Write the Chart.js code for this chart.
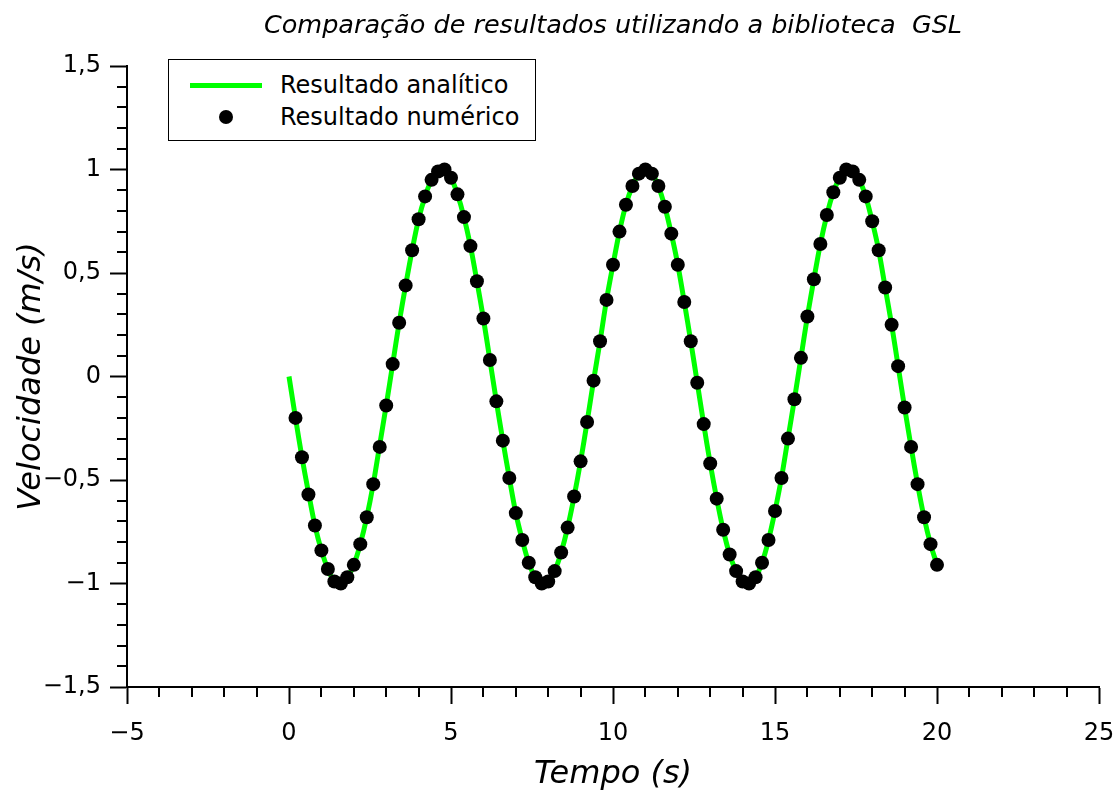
<!DOCTYPE html>
<html lang="pt">
<head>
<meta charset="utf-8">
<title>Comparação de resultados - GSL</title>
<script src="https://cdn.jsdelivr.net/npm/chart.js@4.4.1/dist/chart.umd.min.js"></script>
<style>
  html, body { margin: 0; padding: 0; background: #fff; }
  #wrap { position: relative; width: 1114px; height: 794px; }
  #grafico { position: absolute; left: 0; top: 0; }
  #legenda {
    position: absolute; left: 168px; top: 59px; width: 366px; height: 80px;
    border: 1.5px solid #000; background: #fff;
    font-family: "DejaVu Sans", Verdana, sans-serif; font-size: 24px; color: #000;
  }
  #legenda .item { position: absolute; left: 0; height: 30px; width: 100%; }
  #legenda .amostra { position: absolute; left: 21px; width: 72px; top: 0; height: 30px; }
  #legenda .texto { position: absolute; left: 111px; top: 0; line-height: 30px; white-space: nowrap; }
</style>
</head>
<body>
<div id="wrap">
  <canvas id="grafico" width="1114" height="794"></canvas>
  <div id="legenda"></div>
</div>
<script>
// ---------- dados ----------
// tempo (s) da solução analítica, passo de 0,2 s
const tempo = [
  0, 0.2, 0.4, 0.6, 0.8, 1, 1.2, 1.4, 1.6, 1.8, 2, 2.2, 2.4, 2.6, 2.8, 3, 3.2, 3.4, 3.6, 3.8,
  4, 4.2, 4.4, 4.6, 4.8, 5, 5.2, 5.4, 5.6, 5.8, 6, 6.2, 6.4, 6.6, 6.8, 7, 7.2, 7.4, 7.6, 7.8,
  8, 8.2, 8.4, 8.6, 8.8, 9, 9.2, 9.4, 9.6, 9.8, 10, 10.2, 10.4, 10.6, 10.8, 11, 11.2, 11.4, 11.6, 11.8,
  12, 12.2, 12.4, 12.6, 12.8, 13, 13.2, 13.4, 13.6, 13.8, 14, 14.2, 14.4, 14.6, 14.8, 15, 15.2, 15.4, 15.6, 15.8,
  16, 16.2, 16.4, 16.6, 16.8, 17, 17.2, 17.4, 17.6, 17.8, 18, 18.2, 18.4, 18.6, 18.8, 19, 19.2, 19.4, 19.6, 19.8, 20
];
// velocidade (m/s) da curva analítica
const velAnalitica = [
  0, -0.20, -0.39, -0.56, -0.72, -0.84, -0.93, -0.99, -1.00, -0.97, -0.91, -0.81, -0.68, -0.52, -0.33, -0.14, 0.06, 0.26, 0.44, 0.61,
  0.76, 0.87, 0.95, 0.99, 1.00, 0.96, 0.88, 0.77, 0.63, 0.46, 0.28, 0.08, -0.12, -0.31, -0.49, -0.66, -0.79, -0.90, -0.97, -1.00,
  -0.99, -0.94, -0.85, -0.73, -0.58, -0.41, -0.22, -0.02, 0.17, 0.37, 0.54, 0.70, 0.83, 0.92, 0.98, 1.00, 0.98, 0.92, 0.82, 0.69,
  0.54, 0.36, 0.17, -0.03, -0.23, -0.42, -0.59, -0.74, -0.86, -0.94, -0.99, -1.00, -0.97, -0.90, -0.79, -0.65, -0.49, -0.30, -0.11, 0.09,
  0.29, 0.47, 0.64, 0.78, 0.89, 0.96, 1.00, 0.99, 0.95, 0.87, 0.75, 0.61, 0.43, 0.25, 0.05, -0.15, -0.34, -0.52, -0.68, -0.81, -0.91
];
// pontos do integrador numérico (GSL), de 0,2 s a 20 s
const tempoNumerico = tempo.slice(1);
const velNumerica = [
  -0.20, -0.39, -0.57, -0.72, -0.84, -0.93, -0.99, -1.00, -0.97, -0.91, -0.81, -0.68, -0.52, -0.34, -0.14, 0.06, 0.26, 0.44, 0.61,
  0.76, 0.87, 0.95, 0.99, 1.00, 0.96, 0.88, 0.77, 0.63, 0.46, 0.28, 0.08, -0.12, -0.31, -0.49, -0.66, -0.79, -0.90, -0.97, -1.00,
  -0.99, -0.94, -0.85, -0.73, -0.58, -0.41, -0.22, -0.02, 0.17, 0.37, 0.54, 0.70, 0.83, 0.92, 0.98, 1.00, 0.98, 0.92, 0.82, 0.69,
  0.54, 0.36, 0.17, -0.03, -0.23, -0.42, -0.59, -0.74, -0.86, -0.94, -0.99, -1.00, -0.97, -0.90, -0.79, -0.65, -0.49, -0.30, -0.11, 0.09,
  0.29, 0.47, 0.64, 0.78, 0.89, 0.96, 1.00, 0.99, 0.95, 0.87, 0.75, 0.61, 0.43, 0.25, 0.05, -0.15, -0.34, -0.52, -0.68, -0.81, -0.91
];

const titulo = "Comparação de resultados utilizando a biblioteca  GSL";
const rotulos = ["Resultado analítico", "Resultado numérico"];

// ---------- helpers ----------
function ehMultiplo(v, passo) {
  const q = v / passo;
  return Math.abs(q - Math.round(q)) < 1e-6;
}
function formatar(v) {
  const s = String(Math.round(v * 10) / 10).replace(".", ",");
  return s.replace("-", "\u2212");
}

// titulo centralizado sobre a area do grafico
const tituloPlugin = {
  id: "tituloPlugin",
  afterDraw(chart) {
    const { ctx, chartArea } = chart;
    ctx.save();
    ctx.font = "italic 25.5px 'DejaVu Sans'";
    ctx.fillStyle = "#000";
    ctx.textAlign = "center";
    ctx.textBaseline = "alphabetic";
    ctx.fillText(titulo, (chartArea.left + chartArea.right) / 2, 33);
    ctx.restore();
  }
};

// marcas menores dos eixos (mais curtas que as principais)
const marcasMenores = {
  id: "marcasMenores",
  afterDraw(chart) {
    const ctx = chart.ctx;
    const sx = chart.scales.x, sy = chart.scales.y;
    ctx.save();
    ctx.strokeStyle = "#000";
    ctx.lineWidth = 2;
    ctx.beginPath();
    sx.ticks.forEach(t => {
      if (ehMultiplo(t.value, 5)) return;
      const px = Math.round(sx.getPixelForValue(t.value));
      ctx.moveTo(px, sx.top);
      ctx.lineTo(px, sx.top + 10);
    });
    sy.ticks.forEach(t => {
      if (ehMultiplo(t.value, 0.5)) return;
      const py = Math.round(sy.getPixelForValue(t.value));
      ctx.moveTo(sy.right, py);
      ctx.lineTo(sy.right - 10, py);
    });
    ctx.stroke();
    ctx.restore();
  }
};

// legenda em HTML, montada a partir dos datasets
const legendaHtml = {
  id: "legendaHtml",
  afterUpdate(chart) {
    const box = document.getElementById("legenda");
    box.innerHTML = "";
    const ordem = [1, 0];
    ordem.forEach((i, linha) => {
      const ds = chart.data.datasets[i];
      const item = document.createElement("div");
      item.className = "item";
      item.style.top = (linha === 0 ? 10 : 42) + "px";
      const amostra = document.createElement("div");
      amostra.className = "amostra";
      if (ds.showLine === false) {
        const r = ds.pointRadius;
        amostra.innerHTML = '<div style="position:absolute;left:' + (36 - r) + 'px;top:' + (15 - r) +
          'px;width:' + (2 * r) + 'px;height:' + (2 * r) + 'px;border-radius:50%;background:' + ds.pointBackgroundColor + '"></div>';
      } else {
        amostra.innerHTML = '<div style="position:absolute;left:0;width:72px;top:' + (15 - ds.borderWidth / 2) +
          'px;height:' + ds.borderWidth + 'px;background:' + ds.borderColor + '"></div>';
      }
      const texto = document.createElement("div");
      texto.className = "texto";
      texto.textContent = ds.label;
      item.appendChild(amostra);
      item.appendChild(texto);
      box.appendChild(item);
    });
  }
};

// ---------- grafico ----------
const ctx = document.getElementById("grafico");
const fonteTicks = { family: "'DejaVu Sans', Verdana, sans-serif", size: 24 };
const fonteEixo = { family: "'DejaVu Sans', Verdana, sans-serif", size: 32, style: "italic", lineHeight: 1.2 };

new Chart(ctx, {
  type: "scatter",
  data: {
    datasets: [
      {
        label: rotulos[1],
        data: tempoNumerico.map((t, i) => ({ x: t, y: velNumerica[i] })),
        showLine: false,
        pointRadius: 7,
        pointBackgroundColor: "#000",
        pointBorderWidth: 0,
        order: 1
      },
      {
        label: rotulos[0],
        data: tempo.map((t, i) => ({ x: t, y: velAnalitica[i] })),
        showLine: true,
        borderColor: "#00ff00",
        borderWidth: 5,
        pointRadius: 0,
        tension: 0.3,
        order: 2
      }
    ]
  },
  options: {
    responsive: false,
    animation: false,
    devicePixelRatio: 1,
    layout: { padding: { top: 66, right: 0, bottom: 0, left: 0 } },
    plugins: {
      legend: { display: false },
      title: { display: false },
      tooltip: { enabled: false }
    },
    scales: {
      x: {
        type: "linear",
        min: -5,
        max: 25,
        afterFit: s => { s.height = 107; s.paddingLeft = 0; s.paddingRight = 15; },
        border: { display: true, color: "#000", width: 2 },
        grid: {
          display: true,
          drawOnChartArea: false,
          drawTicks: true,
          tickLength: 17,
          tickWidth: 2,
          tickColor: c => (ehMultiplo(c.tick.value, 5) ? "#000" : "rgba(0,0,0,0)")
        },
        ticks: {
          stepSize: 1,
          autoSkip: false,
          maxRotation: 0,
          padding: 15,
          color: "#000",
          font: fonteTicks,
          callback: v => (ehMultiplo(v, 5) ? formatar(v) : "")
        },
        title: {
          display: true,
          text: "Tempo (s)",
          color: "#000",
          font: fonteEixo,
          padding: { top: 0, bottom: 0 }
        }
      },
      y: {
        type: "linear",
        min: -1.5,
        max: 1.5,
        afterFit: s => { s.width = 127; },
        border: { display: true, color: "#000", width: 2 },
        grid: {
          display: true,
          drawOnChartArea: false,
          drawTicks: true,
          tickLength: 17,
          tickWidth: 2,
          tickColor: c => (ehMultiplo(c.tick.value, 0.5) ? "#000" : "rgba(0,0,0,0)")
        },
        ticks: {
          stepSize: 0.1,
          autoSkip: false,
          padding: 9,
          color: "#000",
          font: fonteTicks,
          callback: v => (ehMultiplo(v, 0.5) ? formatar(v) : "")
        },
        title: {
          display: true,
          text: "Velocidade (m/s)",
          color: "#000",
          font: fonteEixo,
          padding: { top: 12, bottom: 0 }
        }
      }
    }
  },
  plugins: [tituloPlugin, marcasMenores, legendaHtml]
});
</script>
</body>
</html>
